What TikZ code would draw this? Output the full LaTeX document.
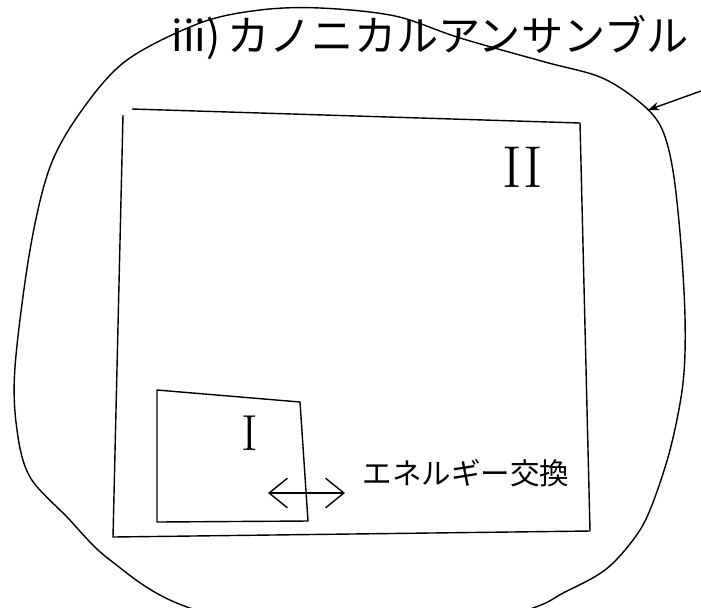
\documentclass[tikz,border=0pt]{standalone}
\usepackage{fontspec}
\newfontfamily\cjk{Noto Sans CJK JP}
\usepackage{tikz}
\usetikzlibrary{arrows.meta, positioning}

\begin{document}
\begin{tikzpicture}[
  x=0.025cm, y=-0.025cm,
  wall/.style={draw=black, line width=1pt, line join=round},
  title/.style={font=\cjk\fontsize{30}{32}\selectfont, inner sep=0pt},
  note/.style={font=\cjk\fontsize{21}{24}\selectfont, inner sep=0pt},
  roman/.style={font=\fontsize{#1}{#1}\selectfont, inner sep=0pt},
  >={Straight Barb[length=13pt, width=21pt]}
]
\useasboundingbox (0,0) rectangle (701,607);
% heat bath (closed curve)
\draw[wall] plot[smooth cycle, tension=0.55] coordinates {
  (187,607) (110,560) (67,517) (30,477) (17,430) (15,367) (30,250) (50,167)
  (82,110) (127,60) (200,23) (260,10) (320,8) (395,16) (460,38) (545,62)
  (600,77) (637,100) (660,125) (672,165) (680,233) (685,317) (683,383)
  (670,450) (650,510) (633,540) (605,570) (565,592) (520,612) (360,650)};
\node[title] (ttl) at (430,38) {iii)\,カノニカルアンサンブル};
% system II
\draw[wall] (123,115) -- (113,537) -- (590,531) -- (580,123) -- (132,109);
\node[roman=42] (sysII) at (523,167) {II};
% system I
\draw[wall] (157,390) -- (300,402) -- (308,521) -- (157,522) -- cycle;
\node[roman=36] (sysI) at (250,433) {I};
% energy exchange
\coordinate (exL) at (268,493);
\coordinate (exR) at (345,493);
\draw[wall, <->] (exL) -- (exR);
\node[note] (exch) at (466,473) {エネルギー交換};
% pointer to the bath
\coordinate (ptail) at (701,91);
\coordinate (ptip) at (648,110);
\draw[wall, -{Stealth[length=8pt, width=6pt]}] (ptail) -- (ptip);
\end{tikzpicture}
\end{document}
